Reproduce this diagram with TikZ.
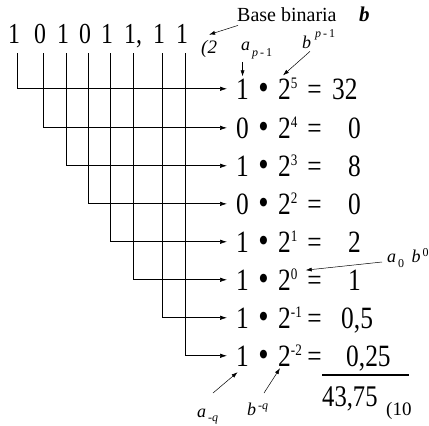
\documentclass[tikz,border=0pt]{standalone}
\usepackage{fontspec}
\setmainfont{Liberation Serif}
\newfontfamily\narrowfont[FakeStretch=0.82]{Liberation Serif}
\usetikzlibrary{arrows.meta}

\newcommand\fsz[1]{\fontsize{#1}{#1}\selectfont}
\newcommand\ex[1]{\raisebox{11pt}{\fsz{16}#1}}
\newcommand\lo[2]{\raisebox{-#1}{\fsz{12}\,#2}}
\newcommand\hi[2]{\raisebox{#1}{\fsz{12}\,#2}}

\begin{document}
\begin{tikzpicture}[
  x=1pt, y=-1pt,
  digit/.style={font=\narrowfont\fsz{29}, anchor=base, inner sep=0pt},
  coef/.style={font=\narrowfont\fsz{31}, anchor=base west, inner xsep=9pt, inner ysep=2pt},
  bul/.style={font=\narrowfont\fsz{36}, anchor=base, inner sep=0pt},
  pow/.style={font=\narrowfont\fsz{31}, anchor=base west, inner sep=0pt},
  eqs/.style={font=\narrowfont\fsz{31}, anchor=base east, inner sep=0pt},
  val/.style={font=\narrowfont\fsz{31}, anchor=base west, inner sep=0pt},
  lbl/.style={font=\itshape\fsz{18}, anchor=base west, inner sep=0pt},
  conn/.style={-{Latex[length=7pt,width=4.5pt]}, line width=0.7pt},
  ann/.style={-{Latex[length=6pt,width=4pt]}, line width=0.5pt}
]
\useasboundingbox (0,0) rectangle (429,426);

% ---------------------------------------------- the binary number
\node[digit] (d1) at (14,43)  {1};
\node[digit] (d2) at (40,43)  {0};
\node[digit] (d3) at (63,43)  {1};
\node[digit] (d4) at (85,43)  {0};
\node[digit] (d5) at (107,43) {1};
\node[digit] (d6) at (130,43) {1};
\node[digit] (cm) at (139,43) {,};
\node[digit] (d7) at (159,43) {1};
\node[digit] (d8) at (182,43) {1};
\node[font=\itshape\fsz{19}, anchor=base west, inner sep=1pt] (b2) at (200,53) {(2};

\node[font=\fsz{20}, anchor=base west, inner sep=1pt] (bb) at (236,21) {Base binaria};
\node[font=\bfseries\itshape\fsz{21}, anchor=base west, inner sep=0pt] (bv) at (359,21) {b};
\draw[ann] ([shift={(2pt,-3pt)}]bb.south west) -- ([yshift=4pt]b2.north);

% ---------------------------------------------- the weighted terms
\node[coef] (c1) at (227,99)  {1};
\node[coef] (c2) at (227,138) {0};
\node[coef] (c3) at (227,176) {1};
\node[coef] (c4) at (227,214) {0};
\node[coef] (c5) at (227,252) {1};
\node[coef] (c6) at (227,290) {1};
\node[coef] (c7) at (227,328) {1};
\node[coef] (c8) at (227,366) {1};

\node[bul] (m1) at (263.5,99)  {•};
\node[bul] (m2) at (263.5,138) {•};
\node[bul] (m3) at (263.5,176) {•};
\node[bul] (m4) at (263.5,214) {•};
\node[bul] (m5) at (263.5,252) {•};
\node[bul] (m6) at (263.5,290) {•};
\node[bul] (m7) at (263.5,328) {•};
\node[bul] (m8) at (263.5,366) {•};

\node[pow] (p1) at (278,99)  {2\ex{5}};
\node[pow] (p2) at (278,138) {2\ex{4}};
\node[pow] (p3) at (278,176) {2\ex{3}};
\node[pow] (p4) at (278,214) {2\ex{2}};
\node[pow] (p5) at (278,252) {2\ex{1}};
\node[pow] (p6) at (278,290) {2\ex{0}};
\node[pow] (p7) at (278,328) {2\ex{-1}};
\node[pow] (p8) at (278,366) {2\ex{-2}};

\node[eqs] (q1) at (322,99)  {=};
\node[eqs] (q2) at (322,138) {=};
\node[eqs] (q3) at (322,176) {=};
\node[eqs] (q4) at (322,214) {=};
\node[eqs] (q5) at (322,252) {=};
\node[eqs] (q6) at (322,290) {=};
\node[eqs] (q7) at (322,328) {=};
\node[eqs] (q8) at (322,366) {=};

\node[val] (v1) at (332,99)  {32};
\node[val] (v2) at (348,138) {0};
\node[val] (v3) at (348,176) {8};
\node[val] (v4) at (348,214) {0};
\node[val] (v5) at (348,252) {2};
\node[val] (v6) at (348,290) {1};
\node[val] (v7) at (341,328) {0,5};
\node[val] (v8) at (346,366) {0,25};

% ---------------------------------------------- digit -> term
\draw[conn] ([shift={(3pt,-10pt)}]d1.south) |- (c1.west);
\draw[conn] ([shift={(3pt,-10pt)}]d2.south) |- (c2.west);
\draw[conn] ([shift={(3pt,-10pt)}]d3.south) |- (c3.west);
\draw[conn] ([shift={(3pt,-10pt)}]d4.south) |- (c4.west);
\draw[conn] ([shift={(3pt,-10pt)}]d5.south) |- (c5.west);
\draw[conn] ([shift={(3pt,-10pt)}]d6.south) |- (c6.west);
\draw[conn] ([shift={(3pt,-10pt)}]d7.south) |- (c7.west);
\draw[conn] ([shift={(3pt,-10pt)}]d8.south) |- (c8.west);

% ---------------------------------------------- the sum
\draw[line width=1.2pt] (322,375) -- (409,375);
\node[val, font=\narrowfont\fsz{30}] (tot) at (322,406) {43,75};
\node[font=\fsz{19}, anchor=base west, inner sep=0pt] (ten) at (386,415) {(10};

% ---------------------------------------------- notation
\node[lbl] (ap) at (241,50)  {a\lo{6pt}{\textit{p}\upshape\,-\,1}};
\node[lbl] (bp) at (302,48)  {b\hi{11pt}{\,\textit{p}\upshape\,-\,1}};
\node[lbl] (a0) at (387,262) {a\lo{5pt}{\upshape 0}\, b\hi{6pt}{\upshape 0}};
\node[lbl] (aq) at (197,417) {a\lo{4pt}{\upshape -\textit{q}}};
\node[lbl] (bq) at (247,415) {b\hi{6pt}{\upshape -\textit{q}}};

\coordinate (aqs) at (213,393);
\coordinate (bqs) at (264,393);

\draw[ann] ([yshift=-3pt]c1.north |- ap.south) -- (c1.north);
\draw[ann] ([shift={(8pt,-3pt)}]bp.south west) -- ([shift={(5pt,2pt)}]p1.north west);
\draw[ann] ([xshift=-5pt]a0.base west) -- ([shift={(8pt,-2pt)}]p6.north east);
\draw[ann] (aqs) -- ([shift={(-5pt,-4pt)}]c8.south);
\draw[ann] (bqs) -- ([shift={(2pt,-2pt)}]p8.south west);

\end{tikzpicture}
\end{document}
